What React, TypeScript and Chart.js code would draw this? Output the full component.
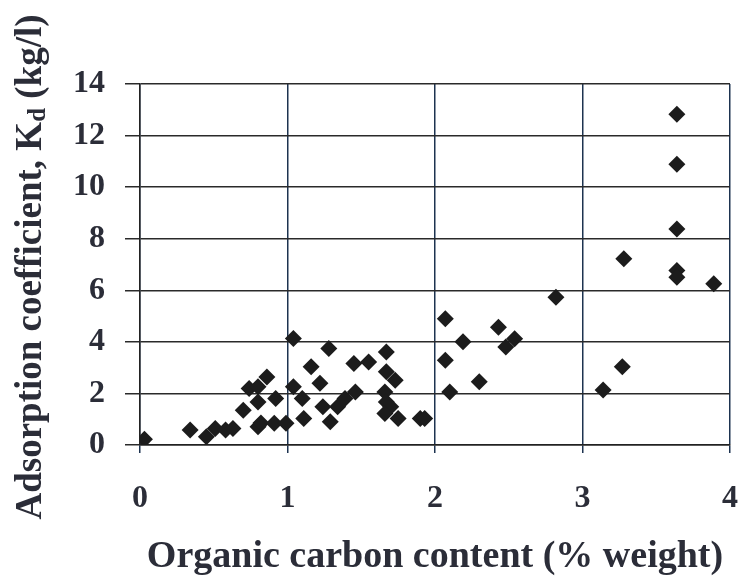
import React, { useEffect, useRef } from "react";
import { Chart, registerables } from "chart.js";

Chart.register(...registerables);

const carbonContent = [
  0.03, 0.34, 0.45, 0.51, 0.58, 0.63, 0.70, 0.74, 0.80, 0.86, 0.80, 0.80, 0.82,
  0.92, 0.91, 0.99, 1.04, 1.04, 1.10, 1.11, 1.16, 1.22, 1.24, 1.28, 1.29, 1.34,
  1.39, 1.45, 1.46, 1.55, 1.67, 1.67, 1.73, 1.66, 1.67, 1.70, 1.66, 1.75, 1.90,
  1.93, 2.07, 2.07, 2.10, 2.19, 2.30, 2.43, 2.48, 2.54, 2.82, 3.14, 3.27, 3.28,
  3.64, 3.64, 3.64, 3.64, 3.64, 3.89,
];
const adsorptionKd = [
  0.22, 0.58, 0.32, 0.64, 0.58, 0.64, 1.35, 2.19, 2.26, 2.64, 1.67, 0.71, 0.85,
  1.80, 0.84, 0.84, 4.13, 2.26, 1.80, 1.03, 3.03, 2.39, 1.48, 3.74, 0.90, 1.48,
  1.80, 3.16, 2.06, 3.22, 3.61, 2.84, 2.51, 2.06, 1.67, 1.48, 1.22, 1.03, 1.03,
  1.03, 4.90, 3.29, 2.06, 4.00, 2.45, 4.57, 3.80, 4.12, 5.73, 2.13, 3.03, 7.22,
  12.83, 10.89, 8.38, 6.77, 6.51, 6.25,
];
const xTicks = [0, 1, 2, 3, 4];
const yTicks = [0, 2, 4, 6, 8, 10, 12, 14];
const xTitle = "Organic carbon content (% weight)";
const yTitleMain = "Adsorption coefficient, K";
const yTitleSub = "d";
const yTitleEnd = " (kg/l)";

const FONT = "'Liberation Serif', 'Times New Roman', serif";
const TEXT = "#2b2d38";

const yTitlePlugin = {
  id: "yTitleSub",
  afterDraw(chart: any) {
    const ctx = chart.ctx;
    ctx.save();
    ctx.fillStyle = TEXT;
    ctx.textBaseline = "middle";
    const big = `bold 37px ${FONT}`;
    const small = `bold 25px ${FONT}`;
    ctx.font = big;
    const w1 = ctx.measureText(yTitleMain).width;
    const w3 = ctx.measureText(yTitleEnd).width;
    ctx.font = small;
    const w2 = ctx.measureText(yTitleSub).width;
    const total = w1 + w2 + w3;
    const cy = 267;
    const cx = 31;
    ctx.translate(cx, cy);
    ctx.rotate(-Math.PI / 2);
    let x = -total / 2;
    ctx.textAlign = "left";
    ctx.font = big;
    ctx.fillText(yTitleMain, x, 0);
    x += w1;
    ctx.font = small;
    ctx.fillText(yTitleSub, x, 8);
    x += w2;
    ctx.font = big;
    ctx.fillText(yTitleEnd, x, 0);
    ctx.restore();
  },
};

export default function App() {
  const ref = useRef<HTMLCanvasElement | null>(null);
  useEffect(() => {
    if (!ref.current) return;
    const points = carbonContent.map((x, i) => ({ x, y: adsorptionKd[i] }));
    const chart = new Chart(ref.current, {
      type: "scatter",
      data: {
        datasets: [
          {
            data: points,
            pointStyle: "rectRot",
            pointRadius: 8.5,
            pointHoverRadius: 8.5,
            backgroundColor: "#1c1c1c",
            borderColor: "#1c1c1c",
            borderWidth: 0,
          },
        ],
      },
      options: {
        animation: false,
        responsive: false,
        events: [],
        layout: { padding: { left: 0, right: 15, top: 84, bottom: 0 } },
        plugins: {
          legend: { display: false },
          tooltip: { enabled: false },
        },
        scales: {
          x: {
            type: "linear",
            min: 0,
            max: 4,
            afterBuildTicks: (s: any) => {
              s.ticks = xTicks.map((v) => ({ value: v }));
            },
            afterFit: (s: any) => {
              s.height = 139;
              s.paddingLeft = 0;
              s.paddingRight = 0;
            },
            ticks: {
              color: TEXT,
              font: { family: FONT, weight: "bold", size: 32 },
              padding: 27,
            },
            grid: {
              color: "#1d3350",
              lineWidth: 1.5,
              tickLength: 8,
              drawTicks: true,
            },
            border: { color: "#222", width: 1.5 },
            title: {
              display: true,
              text: xTitle,
              color: TEXT,
              font: { family: FONT, weight: "bold", size: 38 },
              padding: { top: 0, bottom: 4 },
            },
          },
          y: {
            type: "linear",
            min: 0,
            max: 14,
            afterBuildTicks: (s: any) => {
              s.ticks = yTicks.map((v) => ({ value: v }));
            },
            afterFit: (s: any) => {
              s.width = 140;
              s.paddingTop = 0;
              s.paddingBottom = 0;
            },
            ticks: {
              color: TEXT,
              font: { family: FONT, weight: "bold", size: 32 },
              padding: 20,
            },
            grid: {
              color: "#2a2a2a",
              lineWidth: 1.5,
              tickLength: 15,
            },
            border: { color: "#222", width: 1.5 },
          },
        },
      },
      plugins: [yTitlePlugin],
    });
    return () => chart.destroy();
  }, []);
  return (
    <div style={{ position: "fixed", left: 0, top: 0, width: 745, height: 584, background: "#fff" }}>
      <canvas ref={ref} width={745} height={584} style={{ width: 745, height: 584 }} />
    </div>
  );
}
